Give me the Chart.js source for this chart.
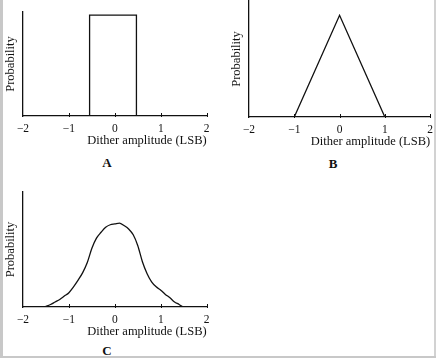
<!DOCTYPE html>
<html>
<head>
<meta charset="utf-8">
<script src="https://cdn.jsdelivr.net/npm/chart.js@4/dist/chart.umd.min.js"></script>
<style>
  body { margin: 0; background: #fff; }
  #page { position: relative; width: 438px; height: 358px; overflow: hidden; background: #fff; }
  canvas { position: absolute; }
  .edge { position: absolute; background: #c8c8c8; }
  .tag { position: absolute; font: bold 13px "Liberation Serif", "DejaVu Serif", serif; color: #111;
         line-height: 1; transform: translate(-50%, -50%); }
</style>
</head>
<body>
<div id="page">
  <canvas id="chartA" width="215" height="148" style="left:0;top:0"></canvas>
  <canvas id="chartB" width="212" height="149" style="left:226px;top:0"></canvas>
  <canvas id="chartC" width="215" height="159" style="left:0;top:180px"></canvas>
  <div class="tag" style="left:107px;top:162px">A</div>
  <div class="tag" style="left:333px;top:163px">B</div>
  <div class="tag" style="left:107px;top:350px">C</div>
  <div class="edge" style="left:0;top:0;width:3px;height:358px"></div>
  <div class="edge" style="left:434px;top:0;width:2px;height:358px;background:#d2d2d2"></div>
  <div class="edge" style="left:0;top:356px;width:436px;height:2px"></div>
</div>
<script>
const xTickValues = [-2, -1, 0, 1, 2];
const xTickLabels = ['\u22122', '\u22121', '0', '1', '2'];

// A: rectangular (uniform) dither
const rectX = [-0.55, -0.55, 0.47, 0.47];
const rectY = [0, 1, 1, 0];

// B: triangular dither
const triX = [-1, 0, 1];
const triY = [0, 1, 0];

// C: gaussian-like dither
const bellX = [-1.53, -1.4, -1.3, -1.2, -1.1, -1.0, -0.9, -0.8, -0.7, -0.6, -0.5, -0.4, -0.3, -0.2, -0.1, 0,
               0.1, 0.2, 0.3, 0.4, 0.5, 0.6, 0.7, 0.8, 0.9, 1.0, 1.1, 1.2, 1.3, 1.4, 1.48];
const bellY = [0, 0.03, 0.06, 0.09, 0.13, 0.17, 0.24, 0.32, 0.41, 0.53, 0.70, 0.82, 0.89, 0.95, 0.98, 0.99,
               1.0, 0.97, 0.93, 0.86, 0.73, 0.54, 0.40, 0.30, 0.24, 0.20, 0.15, 0.11, 0.06, 0.03, 0];

const ink = '#111';
const serif = '"Liberation Serif", "DejaVu Serif", serif';

const tickMarks = {
    id: 'tickMarks',
    afterDraw(chart) {
        const xs = chart.scales.x;
        const ctx = chart.ctx;
        ctx.save();
        ctx.strokeStyle = ink;
        ctx.lineWidth = 1;
        xTickValues.forEach(v => {
            if (v === -2) return;
            const px = Math.round(xs.getPixelForValue(v)) + 0.5;
            ctx.beginPath();
            ctx.moveTo(px, xs.top - 3);
            ctx.lineTo(px, xs.top + 1);
            ctx.stroke();
        });
        ctx.restore();
    }
};

function makeChart(id, xs, ys, yMax, padTop, padRight, smooth) {
    const ctx = document.getElementById(id).getContext('2d');
    return new Chart(ctx, {
        type: 'line',
        data: {
            datasets: [{
                data: xs.map((x, i) => ({ x: x, y: ys[i] })),
                borderColor: ink,
                borderWidth: 1.3,
                pointRadius: 0,
                fill: false,
                tension: smooth ? 0.4 : 0,
                cubicInterpolationMode: smooth ? 'monotone' : 'default'
            }]
        },
        options: {
            responsive: false,
            animation: false,
            devicePixelRatio: 1,
            layout: { padding: { left: 0, top: padTop, right: padRight, bottom: 0 } },
            plugins: { legend: { display: false }, tooltip: { enabled: false } },
            scales: {
                x: {
                    type: 'linear',
                    min: -2,
                    max: 2,
                    afterBuildTicks: scale => { scale.ticks = xTickValues.map(v => ({ value: v })); },
                    afterFit: scale => { scale.height = 32; },
                    grid: { display: false, drawTicks: false },
                    border: { display: true, color: ink, width: 1.3 },
                    ticks: {
                        color: ink,
                        padding: 5,
                        maxRotation: 0,
                        font: { family: serif, size: 11.5, lineHeight: 1.45 },
                        callback: (v, i) => xTickLabels[i]
                    },
                    title: {
                        display: true,
                        text: 'Dither amplitude (LSB)',
                        align: 'end',
                        color: ink,
                        padding: { top: 0, bottom: 0 },
                        font: { family: serif, size: 12.5 }
                    }
                },
                y: {
                    min: 0,
                    max: yMax,
                    afterFit: scale => { scale.width = 23; },
                    grid: { display: false, drawTicks: false },
                    border: { display: true, color: ink, width: 1.3 },
                    ticks: { display: false },
                    title: {
                        display: true,
                        text: 'Probability',
                        color: ink,
                        padding: { top: 3, bottom: 0 },
                        font: { family: serif, size: 12.5 }
                    }
                }
            }
        },
        plugins: [tickMarks]
    });
}

makeChart('chartA', rectX, rectY, 1.03, 12, 8.3, false);
makeChart('chartB', triX, triY, 1.14, 1, 6, false);
makeChart('chartC', bellX, bellY, 1.37, 12, 8.3, true);
</script>
</body>
</html>
